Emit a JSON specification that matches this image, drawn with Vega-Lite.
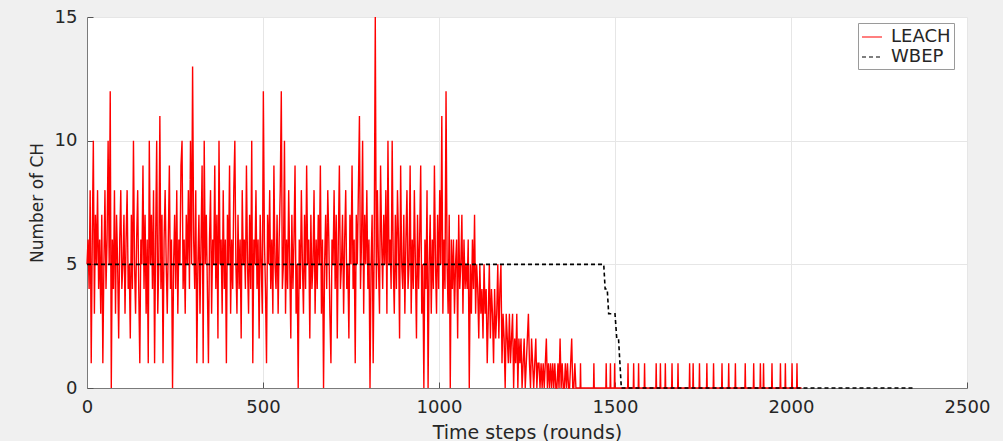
{
  "$schema": "https://vega.github.io/schema/vega-lite/v6.json",
  "width": 880,
  "height": 371,
  "autosize": {"type": "none"},
  "padding": {"left": 87, "top": 17, "right": 36, "bottom": 53},
  "background": "#f0f0f0",
  "config": {
    "view": {"fill": "white", "stroke": null},
    "font": "DejaVu Sans",
    "axis": {
      "labelFont": "DejaVu Sans",
      "labelFontSize": 18,
      "labelColor": "#262626",
      "labelFlush": false,
      "titleFont": "DejaVu Sans",
      "titleFontSize": 19,
      "titleFontWeight": "normal",
      "titleColor": "#262626",
      "domainColor": "#7a7a7a",
      "tickColor": "#555555",
      "gridColor": "#e6e6e6",
      "tickSize": -6,
      "labelPadding": 16,
      "format": "d"
    },
    "legend": {
      "labelFont": "DejaVu Sans",
      "labelFontSize": 18,
      "labelColor": "#262626"
    }
  },
  "datasets": {
    "leach": [
{"r":0,"v":5,"s":"LEACH"},{"r":3,"v":6,"s":"LEACH"},{"r":6,"v":4,"s":"LEACH"},{"r":9,"v":8,"s":"LEACH"},{"r":12,"v":1,"s":"LEACH"},{"r":15,"v":6,"s":"LEACH"},{"r":18,"v":10,"s":"LEACH"},{"r":21,"v":3,"s":"LEACH"},{"r":24,"v":7,"s":"LEACH"},{"r":27,"v":5,"s":"LEACH"},
{"r":30,"v":8,"s":"LEACH"},{"r":33,"v":4,"s":"LEACH"},{"r":36,"v":6,"s":"LEACH"},{"r":39,"v":3,"s":"LEACH"},{"r":42,"v":7,"s":"LEACH"},{"r":45,"v":1,"s":"LEACH"},{"r":48,"v":5,"s":"LEACH"},{"r":51,"v":8,"s":"LEACH"},{"r":54,"v":4,"s":"LEACH"},{"r":57,"v":6,"s":"LEACH"},
{"r":60,"v":10,"s":"LEACH"},{"r":63,"v":5,"s":"LEACH"},{"r":66,"v":12,"s":"LEACH"},{"r":69,"v":0,"s":"LEACH"},{"r":72,"v":6,"s":"LEACH"},{"r":75,"v":4,"s":"LEACH"},{"r":78,"v":8,"s":"LEACH"},{"r":81,"v":3,"s":"LEACH"},{"r":84,"v":7,"s":"LEACH"},{"r":87,"v":5,"s":"LEACH"},
{"r":90,"v":2,"s":"LEACH"},{"r":93,"v":6,"s":"LEACH"},{"r":96,"v":8,"s":"LEACH"},{"r":99,"v":4,"s":"LEACH"},{"r":102,"v":5,"s":"LEACH"},{"r":105,"v":7,"s":"LEACH"},{"r":108,"v":3,"s":"LEACH"},{"r":111,"v":6,"s":"LEACH"},{"r":114,"v":8,"s":"LEACH"},{"r":117,"v":4,"s":"LEACH"},
{"r":120,"v":5,"s":"LEACH"},{"r":123,"v":2,"s":"LEACH"},{"r":126,"v":7,"s":"LEACH"},{"r":129,"v":4,"s":"LEACH"},{"r":132,"v":10,"s":"LEACH"},{"r":135,"v":5,"s":"LEACH"},{"r":138,"v":3,"s":"LEACH"},{"r":141,"v":6,"s":"LEACH"},{"r":144,"v":8,"s":"LEACH"},{"r":147,"v":4,"s":"LEACH"},
{"r":150,"v":1,"s":"LEACH"},{"r":153,"v":6,"s":"LEACH"},{"r":156,"v":5,"s":"LEACH"},{"r":159,"v":9,"s":"LEACH"},{"r":162,"v":4,"s":"LEACH"},{"r":165,"v":7,"s":"LEACH"},{"r":168,"v":3,"s":"LEACH"},{"r":171,"v":6,"s":"LEACH"},{"r":174,"v":1,"s":"LEACH"},{"r":177,"v":10,"s":"LEACH"},
{"r":180,"v":5,"s":"LEACH"},{"r":183,"v":7,"s":"LEACH"},{"r":186,"v":4,"s":"LEACH"},{"r":189,"v":8,"s":"LEACH"},{"r":192,"v":1,"s":"LEACH"},{"r":195,"v":6,"s":"LEACH"},{"r":198,"v":10,"s":"LEACH"},{"r":201,"v":3,"s":"LEACH"},{"r":204,"v":5,"s":"LEACH"},{"r":207,"v":11,"s":"LEACH"},
{"r":210,"v":4,"s":"LEACH"},{"r":213,"v":7,"s":"LEACH"},{"r":216,"v":1,"s":"LEACH"},{"r":219,"v":6,"s":"LEACH"},{"r":222,"v":8,"s":"LEACH"},{"r":225,"v":5,"s":"LEACH"},{"r":228,"v":3,"s":"LEACH"},{"r":231,"v":6,"s":"LEACH"},{"r":234,"v":9,"s":"LEACH"},{"r":237,"v":4,"s":"LEACH"},
{"r":240,"v":6,"s":"LEACH"},{"r":243,"v":0,"s":"LEACH"},{"r":246,"v":5,"s":"LEACH"},{"r":249,"v":7,"s":"LEACH"},{"r":252,"v":4,"s":"LEACH"},{"r":255,"v":8,"s":"LEACH"},{"r":258,"v":3,"s":"LEACH"},{"r":261,"v":6,"s":"LEACH"},{"r":264,"v":5,"s":"LEACH"},{"r":267,"v":9,"s":"LEACH"},
{"r":270,"v":10,"s":"LEACH"},{"r":273,"v":4,"s":"LEACH"},{"r":276,"v":6,"s":"LEACH"},{"r":279,"v":3,"s":"LEACH"},{"r":282,"v":7,"s":"LEACH"},{"r":285,"v":5,"s":"LEACH"},{"r":288,"v":8,"s":"LEACH"},{"r":291,"v":4,"s":"LEACH"},{"r":294,"v":10,"s":"LEACH"},{"r":297,"v":5,"s":"LEACH"},
{"r":300,"v":13,"s":"LEACH"},{"r":303,"v":6,"s":"LEACH"},{"r":306,"v":4,"s":"LEACH"},{"r":309,"v":8,"s":"LEACH"},{"r":312,"v":1,"s":"LEACH"},{"r":315,"v":5,"s":"LEACH"},{"r":318,"v":7,"s":"LEACH"},{"r":321,"v":3,"s":"LEACH"},{"r":324,"v":6,"s":"LEACH"},{"r":327,"v":9,"s":"LEACH"},
{"r":330,"v":1,"s":"LEACH"},{"r":333,"v":10,"s":"LEACH"},{"r":336,"v":5,"s":"LEACH"},{"r":339,"v":7,"s":"LEACH"},{"r":342,"v":4,"s":"LEACH"},{"r":345,"v":1,"s":"LEACH"},{"r":348,"v":6,"s":"LEACH"},{"r":351,"v":8,"s":"LEACH"},{"r":354,"v":3,"s":"LEACH"},{"r":357,"v":6,"s":"LEACH"},
{"r":360,"v":5,"s":"LEACH"},{"r":363,"v":9,"s":"LEACH"},{"r":366,"v":4,"s":"LEACH"},{"r":369,"v":7,"s":"LEACH"},{"r":372,"v":2,"s":"LEACH"},{"r":375,"v":10,"s":"LEACH"},{"r":378,"v":5,"s":"LEACH"},{"r":381,"v":6,"s":"LEACH"},{"r":384,"v":3,"s":"LEACH"},{"r":387,"v":8,"s":"LEACH"},
{"r":390,"v":4,"s":"LEACH"},{"r":393,"v":6,"s":"LEACH"},{"r":396,"v":1,"s":"LEACH"},{"r":399,"v":7,"s":"LEACH"},{"r":402,"v":5,"s":"LEACH"},{"r":405,"v":9,"s":"LEACH"},{"r":408,"v":3,"s":"LEACH"},{"r":411,"v":6,"s":"LEACH"},{"r":414,"v":4,"s":"LEACH"},{"r":417,"v":8,"s":"LEACH"},
{"r":420,"v":10,"s":"LEACH"},{"r":423,"v":5,"s":"LEACH"},{"r":426,"v":3,"s":"LEACH"},{"r":429,"v":7,"s":"LEACH"},{"r":432,"v":4,"s":"LEACH"},{"r":435,"v":6,"s":"LEACH"},{"r":438,"v":2,"s":"LEACH"},{"r":441,"v":8,"s":"LEACH"},{"r":444,"v":5,"s":"LEACH"},{"r":447,"v":6,"s":"LEACH"},
{"r":450,"v":4,"s":"LEACH"},{"r":453,"v":9,"s":"LEACH"},{"r":456,"v":5,"s":"LEACH"},{"r":459,"v":3,"s":"LEACH"},{"r":462,"v":7,"s":"LEACH"},{"r":465,"v":4,"s":"LEACH"},{"r":468,"v":10,"s":"LEACH"},{"r":471,"v":1,"s":"LEACH"},{"r":474,"v":6,"s":"LEACH"},{"r":477,"v":5,"s":"LEACH"},
{"r":480,"v":8,"s":"LEACH"},{"r":483,"v":4,"s":"LEACH"},{"r":486,"v":6,"s":"LEACH"},{"r":489,"v":2,"s":"LEACH"},{"r":492,"v":7,"s":"LEACH"},{"r":495,"v":5,"s":"LEACH"},{"r":498,"v":3,"s":"LEACH"},{"r":501,"v":12,"s":"LEACH"},{"r":504,"v":6,"s":"LEACH"},{"r":507,"v":4,"s":"LEACH"},
{"r":510,"v":1,"s":"LEACH"},{"r":513,"v":7,"s":"LEACH"},{"r":516,"v":5,"s":"LEACH"},{"r":519,"v":8,"s":"LEACH"},{"r":522,"v":4,"s":"LEACH"},{"r":525,"v":6,"s":"LEACH"},{"r":528,"v":3,"s":"LEACH"},{"r":531,"v":9,"s":"LEACH"},{"r":534,"v":5,"s":"LEACH"},{"r":537,"v":4,"s":"LEACH"},
{"r":540,"v":7,"s":"LEACH"},{"r":543,"v":3,"s":"LEACH"},{"r":546,"v":6,"s":"LEACH"},{"r":549,"v":8,"s":"LEACH"},{"r":552,"v":12,"s":"LEACH"},{"r":555,"v":4,"s":"LEACH"},{"r":558,"v":5,"s":"LEACH"},{"r":561,"v":10,"s":"LEACH"},{"r":564,"v":3,"s":"LEACH"},{"r":567,"v":6,"s":"LEACH"},
{"r":570,"v":4,"s":"LEACH"},{"r":573,"v":8,"s":"LEACH"},{"r":576,"v":5,"s":"LEACH"},{"r":579,"v":2,"s":"LEACH"},{"r":582,"v":7,"s":"LEACH"},{"r":585,"v":4,"s":"LEACH"},{"r":588,"v":6,"s":"LEACH"},{"r":591,"v":9,"s":"LEACH"},{"r":594,"v":3,"s":"LEACH"},{"r":597,"v":5,"s":"LEACH"},
{"r":600,"v":0,"s":"LEACH"},{"r":603,"v":6,"s":"LEACH"},{"r":606,"v":4,"s":"LEACH"},{"r":609,"v":8,"s":"LEACH"},{"r":612,"v":5,"s":"LEACH"},{"r":615,"v":3,"s":"LEACH"},{"r":618,"v":7,"s":"LEACH"},{"r":621,"v":4,"s":"LEACH"},{"r":624,"v":9,"s":"LEACH"},{"r":627,"v":5,"s":"LEACH"},
{"r":630,"v":6,"s":"LEACH"},{"r":633,"v":2,"s":"LEACH"},{"r":636,"v":7,"s":"LEACH"},{"r":639,"v":4,"s":"LEACH"},{"r":642,"v":5,"s":"LEACH"},{"r":645,"v":8,"s":"LEACH"},{"r":648,"v":3,"s":"LEACH"},{"r":651,"v":6,"s":"LEACH"},{"r":654,"v":4,"s":"LEACH"},{"r":657,"v":7,"s":"LEACH"},
{"r":660,"v":5,"s":"LEACH"},{"r":663,"v":9,"s":"LEACH"},{"r":666,"v":3,"s":"LEACH"},{"r":669,"v":6,"s":"LEACH"},{"r":672,"v":0,"s":"LEACH"},{"r":675,"v":5,"s":"LEACH"},{"r":678,"v":7,"s":"LEACH"},{"r":681,"v":4,"s":"LEACH"},{"r":684,"v":8,"s":"LEACH"},{"r":687,"v":6,"s":"LEACH"},
{"r":690,"v":3,"s":"LEACH"},{"r":693,"v":1,"s":"LEACH"},{"r":696,"v":6,"s":"LEACH"},{"r":699,"v":5,"s":"LEACH"},{"r":702,"v":8,"s":"LEACH"},{"r":705,"v":4,"s":"LEACH"},{"r":708,"v":7,"s":"LEACH"},{"r":711,"v":2,"s":"LEACH"},{"r":714,"v":6,"s":"LEACH"},{"r":717,"v":9,"s":"LEACH"},
{"r":720,"v":4,"s":"LEACH"},{"r":723,"v":5,"s":"LEACH"},{"r":726,"v":7,"s":"LEACH"},{"r":729,"v":3,"s":"LEACH"},{"r":732,"v":6,"s":"LEACH"},{"r":735,"v":8,"s":"LEACH"},{"r":738,"v":4,"s":"LEACH"},{"r":741,"v":5,"s":"LEACH"},{"r":744,"v":2,"s":"LEACH"},{"r":747,"v":7,"s":"LEACH"},
{"r":750,"v":5,"s":"LEACH"},{"r":753,"v":9,"s":"LEACH"},{"r":756,"v":4,"s":"LEACH"},{"r":759,"v":6,"s":"LEACH"},{"r":762,"v":1,"s":"LEACH"},{"r":765,"v":7,"s":"LEACH"},{"r":768,"v":5,"s":"LEACH"},{"r":771,"v":8,"s":"LEACH"},{"r":774,"v":11,"s":"LEACH"},{"r":777,"v":4,"s":"LEACH"},
{"r":780,"v":6,"s":"LEACH"},{"r":783,"v":10,"s":"LEACH"},{"r":786,"v":3,"s":"LEACH"},{"r":789,"v":7,"s":"LEACH"},{"r":792,"v":5,"s":"LEACH"},{"r":795,"v":8,"s":"LEACH"},{"r":798,"v":4,"s":"LEACH"},{"r":801,"v":6,"s":"LEACH"},{"r":804,"v":0,"s":"LEACH"},{"r":807,"v":5,"s":"LEACH"},
{"r":810,"v":7,"s":"LEACH"},{"r":813,"v":1,"s":"LEACH"},{"r":816,"v":6,"s":"LEACH"},{"r":819,"v":15,"s":"LEACH"},{"r":822,"v":4,"s":"LEACH"},{"r":825,"v":8,"s":"LEACH"},{"r":828,"v":5,"s":"LEACH"},{"r":831,"v":3,"s":"LEACH"},{"r":834,"v":9,"s":"LEACH"},{"r":837,"v":6,"s":"LEACH"},
{"r":840,"v":4,"s":"LEACH"},{"r":843,"v":7,"s":"LEACH"},{"r":846,"v":5,"s":"LEACH"},{"r":849,"v":8,"s":"LEACH"},{"r":852,"v":3,"s":"LEACH"},{"r":855,"v":10,"s":"LEACH"},{"r":858,"v":5,"s":"LEACH"},{"r":861,"v":6,"s":"LEACH"},{"r":864,"v":4,"s":"LEACH"},{"r":867,"v":10,"s":"LEACH"},
{"r":870,"v":5,"s":"LEACH"},{"r":873,"v":3,"s":"LEACH"},{"r":876,"v":7,"s":"LEACH"},{"r":879,"v":4,"s":"LEACH"},{"r":882,"v":8,"s":"LEACH"},{"r":885,"v":6,"s":"LEACH"},{"r":888,"v":2,"s":"LEACH"},{"r":891,"v":9,"s":"LEACH"},{"r":894,"v":5,"s":"LEACH"},{"r":897,"v":4,"s":"LEACH"},
{"r":900,"v":7,"s":"LEACH"},{"r":903,"v":3,"s":"LEACH"},{"r":906,"v":6,"s":"LEACH"},{"r":909,"v":8,"s":"LEACH"},{"r":912,"v":4,"s":"LEACH"},{"r":915,"v":5,"s":"LEACH"},{"r":918,"v":9,"s":"LEACH"},{"r":921,"v":3,"s":"LEACH"},{"r":924,"v":6,"s":"LEACH"},{"r":927,"v":4,"s":"LEACH"},
{"r":930,"v":8,"s":"LEACH"},{"r":933,"v":5,"s":"LEACH"},{"r":936,"v":2,"s":"LEACH"},{"r":939,"v":7,"s":"LEACH"},{"r":942,"v":4,"s":"LEACH"},{"r":945,"v":6,"s":"LEACH"},{"r":948,"v":9,"s":"LEACH"},{"r":951,"v":3,"s":"LEACH"},{"r":954,"v":5,"s":"LEACH"},{"r":957,"v":0,"s":"LEACH"},
{"r":960,"v":6,"s":"LEACH"},{"r":963,"v":4,"s":"LEACH"},{"r":966,"v":8,"s":"LEACH"},{"r":969,"v":0,"s":"LEACH"},{"r":972,"v":5,"s":"LEACH"},{"r":975,"v":7,"s":"LEACH"},{"r":978,"v":3,"s":"LEACH"},{"r":981,"v":6,"s":"LEACH"},{"r":984,"v":4,"s":"LEACH"},{"r":987,"v":9,"s":"LEACH"},
{"r":990,"v":5,"s":"LEACH"},{"r":993,"v":3,"s":"LEACH"},{"r":996,"v":7,"s":"LEACH"},{"r":999,"v":4,"s":"LEACH"},{"r":1002,"v":8,"s":"LEACH"},{"r":1005,"v":5,"s":"LEACH"},{"r":1008,"v":11,"s":"LEACH"},{"r":1011,"v":3,"s":"LEACH"},{"r":1014,"v":6,"s":"LEACH"},{"r":1017,"v":4,"s":"LEACH"},
{"r":1020,"v":12,"s":"LEACH"},{"r":1023,"v":5,"s":"LEACH"},{"r":1026,"v":3,"s":"LEACH"},{"r":1029,"v":7,"s":"LEACH"},{"r":1032,"v":0,"s":"LEACH"},{"r":1035,"v":6,"s":"LEACH"},{"r":1038,"v":4,"s":"LEACH"},{"r":1041,"v":6,"s":"LEACH"},{"r":1044,"v":3,"s":"LEACH"},{"r":1047,"v":5,"s":"LEACH"},
{"r":1050,"v":6,"s":"LEACH"},{"r":1053,"v":2,"s":"LEACH"},{"r":1056,"v":7,"s":"LEACH"},{"r":1059,"v":4,"s":"LEACH"},{"r":1062,"v":5,"s":"LEACH"},{"r":1065,"v":7,"s":"LEACH"},{"r":1068,"v":3,"s":"LEACH"},{"r":1071,"v":6,"s":"LEACH"},{"r":1074,"v":4,"s":"LEACH"},{"r":1077,"v":5,"s":"LEACH"},
{"r":1080,"v":4,"s":"LEACH"},{"r":1083,"v":6,"s":"LEACH"},{"r":1086,"v":0,"s":"LEACH"},{"r":1089,"v":5,"s":"LEACH"},{"r":1092,"v":3,"s":"LEACH"},{"r":1095,"v":6,"s":"LEACH"},{"r":1098,"v":4,"s":"LEACH"},{"r":1101,"v":7,"s":"LEACH"},{"r":1104,"v":3,"s":"LEACH"},{"r":1107,"v":5,"s":"LEACH"},
{"r":1110,"v":4,"s":"LEACH"},{"r":1113,"v":2,"s":"LEACH"},{"r":1116,"v":5,"s":"LEACH"},{"r":1119,"v":3,"s":"LEACH"},{"r":1122,"v":4,"s":"LEACH"},{"r":1125,"v":2,"s":"LEACH"},{"r":1128,"v":5,"s":"LEACH"},{"r":1131,"v":3,"s":"LEACH"},{"r":1134,"v":4,"s":"LEACH"},{"r":1137,"v":1,"s":"LEACH"},
{"r":1140,"v":3,"s":"LEACH"},{"r":1143,"v":5,"s":"LEACH"},{"r":1146,"v":2,"s":"LEACH"},{"r":1149,"v":4,"s":"LEACH"},{"r":1152,"v":3,"s":"LEACH"},{"r":1155,"v":1,"s":"LEACH"},{"r":1158,"v":4,"s":"LEACH"},{"r":1161,"v":2,"s":"LEACH"},{"r":1164,"v":3,"s":"LEACH"},{"r":1167,"v":5,"s":"LEACH"},
{"r":1170,"v":2,"s":"LEACH"},{"r":1173,"v":4,"s":"LEACH"},{"r":1176,"v":5,"s":"LEACH"},{"r":1179,"v":1,"s":"LEACH"},{"r":1182,"v":3,"s":"LEACH"},{"r":1185,"v":2,"s":"LEACH"},{"r":1188,"v":0,"s":"LEACH"},{"r":1191,"v":3,"s":"LEACH"},{"r":1194,"v":2,"s":"LEACH"},{"r":1197,"v":1,"s":"LEACH"},
{"r":1200,"v":3,"s":"LEACH"},{"r":1203,"v":1,"s":"LEACH"},{"r":1206,"v":2,"s":"LEACH"},{"r":1209,"v":3,"s":"LEACH"},{"r":1212,"v":0,"s":"LEACH"},{"r":1215,"v":2,"s":"LEACH"},{"r":1218,"v":1,"s":"LEACH"},{"r":1221,"v":3,"s":"LEACH"},{"r":1224,"v":0,"s":"LEACH"},{"r":1227,"v":2,"s":"LEACH"},
{"r":1230,"v":1,"s":"LEACH"},{"r":1233,"v":2,"s":"LEACH"},{"r":1236,"v":0,"s":"LEACH"},{"r":1239,"v":1,"s":"LEACH"},{"r":1242,"v":2,"s":"LEACH"},{"r":1245,"v":0,"s":"LEACH"},{"r":1248,"v":1,"s":"LEACH"},{"r":1251,"v":2,"s":"LEACH"},{"r":1254,"v":3,"s":"LEACH"},{"r":1257,"v":1,"s":"LEACH"},
{"r":1260,"v":0,"s":"LEACH"},{"r":1263,"v":2,"s":"LEACH"},{"r":1266,"v":1,"s":"LEACH"},{"r":1269,"v":0,"s":"LEACH"},{"r":1272,"v":1,"s":"LEACH"},{"r":1275,"v":2,"s":"LEACH"},{"r":1278,"v":0,"s":"LEACH"},{"r":1281,"v":1,"s":"LEACH"},{"r":1284,"v":1,"s":"LEACH"},{"r":1287,"v":0,"s":"LEACH"},
{"r":1290,"v":1,"s":"LEACH"},{"r":1293,"v":0,"s":"LEACH"},{"r":1296,"v":1,"s":"LEACH"},{"r":1299,"v":0,"s":"LEACH"},{"r":1302,"v":1,"s":"LEACH"},{"r":1305,"v":2,"s":"LEACH"},{"r":1308,"v":0,"s":"LEACH"},{"r":1311,"v":1,"s":"LEACH"},{"r":1314,"v":0,"s":"LEACH"},{"r":1317,"v":1,"s":"LEACH"},
{"r":1320,"v":0,"s":"LEACH"},{"r":1323,"v":1,"s":"LEACH"},{"r":1326,"v":0,"s":"LEACH"},{"r":1329,"v":1,"s":"LEACH"},{"r":1332,"v":0,"s":"LEACH"},{"r":1335,"v":0,"s":"LEACH"},{"r":1338,"v":1,"s":"LEACH"},{"r":1341,"v":0,"s":"LEACH"},{"r":1344,"v":2,"s":"LEACH"},{"r":1347,"v":0,"s":"LEACH"},
{"r":1350,"v":1,"s":"LEACH"},{"r":1353,"v":0,"s":"LEACH"},{"r":1356,"v":0,"s":"LEACH"},{"r":1359,"v":1,"s":"LEACH"},{"r":1362,"v":0,"s":"LEACH"},{"r":1365,"v":1,"s":"LEACH"},{"r":1368,"v":0,"s":"LEACH"},{"r":1371,"v":0,"s":"LEACH"},{"r":1374,"v":1,"s":"LEACH"},{"r":1377,"v":2,"s":"LEACH"},
{"r":1380,"v":0,"s":"LEACH"},{"r":1383,"v":0,"s":"LEACH"},{"r":1386,"v":1,"s":"LEACH"},{"r":1389,"v":0,"s":"LEACH"},
{"r":1401,"v":0,"s":"LEACH"},{"r":1402,"v":1,"s":"LEACH"},{"r":1403,"v":0,"s":"LEACH"},
{"r":1439,"v":0,"s":"LEACH"},{"r":1440,"v":1,"s":"LEACH"},{"r":1441,"v":0,"s":"LEACH"},
{"r":1474,"v":0,"s":"LEACH"},{"r":1475,"v":1,"s":"LEACH"},{"r":1476,"v":0,"s":"LEACH"},
{"r":1486,"v":0,"s":"LEACH"},{"r":1487,"v":1,"s":"LEACH"},{"r":1488,"v":0,"s":"LEACH"},
{"r":1498,"v":0,"s":"LEACH"},{"r":1499,"v":1,"s":"LEACH"},{"r":1500,"v":0,"s":"LEACH"},
{"r":1536,"v":0,"s":"LEACH"},{"r":1537,"v":1,"s":"LEACH"},{"r":1538,"v":0,"s":"LEACH"},
{"r":1552,"v":0,"s":"LEACH"},{"r":1553,"v":1,"s":"LEACH"},{"r":1554,"v":0,"s":"LEACH"},
{"r":1566,"v":0,"s":"LEACH"},{"r":1567,"v":1,"s":"LEACH"},{"r":1568,"v":0,"s":"LEACH"},
{"r":1583,"v":0,"s":"LEACH"},{"r":1584,"v":1,"s":"LEACH"},{"r":1585,"v":0,"s":"LEACH"},
{"r":1616,"v":0,"s":"LEACH"},{"r":1617,"v":1,"s":"LEACH"},{"r":1618,"v":0,"s":"LEACH"},
{"r":1628,"v":0,"s":"LEACH"},{"r":1629,"v":1,"s":"LEACH"},{"r":1630,"v":0,"s":"LEACH"},
{"r":1642,"v":0,"s":"LEACH"},{"r":1643,"v":1,"s":"LEACH"},{"r":1644,"v":0,"s":"LEACH"},
{"r":1661,"v":0,"s":"LEACH"},{"r":1662,"v":1,"s":"LEACH"},{"r":1663,"v":0,"s":"LEACH"},
{"r":1678,"v":0,"s":"LEACH"},{"r":1679,"v":1,"s":"LEACH"},{"r":1680,"v":0,"s":"LEACH"},
{"r":1711,"v":0,"s":"LEACH"},{"r":1712,"v":1,"s":"LEACH"},{"r":1713,"v":0,"s":"LEACH"},
{"r":1721,"v":0,"s":"LEACH"},{"r":1722,"v":1,"s":"LEACH"},{"r":1723,"v":0,"s":"LEACH"},
{"r":1739,"v":0,"s":"LEACH"},{"r":1740,"v":1,"s":"LEACH"},{"r":1741,"v":0,"s":"LEACH"},
{"r":1760,"v":0,"s":"LEACH"},{"r":1761,"v":1,"s":"LEACH"},{"r":1762,"v":0,"s":"LEACH"},
{"r":1779,"v":0,"s":"LEACH"},{"r":1780,"v":1,"s":"LEACH"},{"r":1781,"v":0,"s":"LEACH"},
{"r":1803,"v":0,"s":"LEACH"},{"r":1804,"v":1,"s":"LEACH"},{"r":1805,"v":0,"s":"LEACH"},
{"r":1822,"v":0,"s":"LEACH"},{"r":1823,"v":1,"s":"LEACH"},{"r":1824,"v":0,"s":"LEACH"},
{"r":1841,"v":0,"s":"LEACH"},{"r":1842,"v":1,"s":"LEACH"},{"r":1843,"v":0,"s":"LEACH"},
{"r":1869,"v":0,"s":"LEACH"},{"r":1870,"v":1,"s":"LEACH"},{"r":1871,"v":0,"s":"LEACH"},
{"r":1893,"v":0,"s":"LEACH"},{"r":1894,"v":1,"s":"LEACH"},{"r":1895,"v":0,"s":"LEACH"},
{"r":1912,"v":0,"s":"LEACH"},{"r":1913,"v":1,"s":"LEACH"},{"r":1914,"v":0,"s":"LEACH"},
{"r":1921,"v":0,"s":"LEACH"},{"r":1922,"v":1,"s":"LEACH"},{"r":1923,"v":0,"s":"LEACH"},
{"r":1945,"v":0,"s":"LEACH"},{"r":1946,"v":1,"s":"LEACH"},{"r":1947,"v":0,"s":"LEACH"},
{"r":1969,"v":0,"s":"LEACH"},{"r":1970,"v":1,"s":"LEACH"},{"r":1971,"v":0,"s":"LEACH"},
{"r":1983,"v":0,"s":"LEACH"},{"r":1984,"v":1,"s":"LEACH"},{"r":1985,"v":0,"s":"LEACH"},
{"r":2002,"v":0,"s":"LEACH"},{"r":2003,"v":1,"s":"LEACH"},{"r":2004,"v":0,"s":"LEACH"},
{"r":2016,"v":0,"s":"LEACH"},{"r":2017,"v":1,"s":"LEACH"},{"r":2018,"v":0,"s":"LEACH"},
{"r":2030,"v":0,"s":"LEACH"}
    ],
    "wbep": [
{"r":0,"v":5,"s":"WBEP"},{"r":1468,"v":5,"s":"WBEP"},{"r":1472,"v":4,"s":"WBEP"},{"r":1478,"v":4,"s":"WBEP"},{"r":1482,"v":3,"s":"WBEP"},{"r":1500,"v":3,"s":"WBEP"},{"r":1505,"v":2,"s":"WBEP"},{"r":1510,"v":2,"s":"WBEP"},{"r":1514,"v":1,"s":"WBEP"},{"r":1518,"v":0,"s":"WBEP"},{"r":2350,"v":0,"s":"WBEP"}
    ]
  },
  "encoding": {
    "x": {
      "field": "r", "type": "quantitative",
      "scale": {"domain": [0, 2500], "nice": false},
      "axis": {"values": [0, 500, 1000, 1500, 2000, 2500], "grid": true, "title": "Time steps (rounds)", "titlePadding": 7}
    },
    "y": {
      "field": "v", "type": "quantitative",
      "scale": {"domain": [0, 15], "nice": false},
      "axis": {"values": [0, 5, 10, 15], "grid": true, "title": "Number of CH", "titlePadding": 8, "titleFontSize": 17}
    },
    "color": {
      "field": "s", "type": "nominal",
      "scale": {"domain": ["LEACH", "WBEP"], "range": ["#ff0000", "#000000"]},
      "legend": {
        "title": null, "orient": "none", "legendX": 771, "legendY": 6,
        "fillColor": "white", "strokeColor": "#9a9a9a", "padding": 3,
        "symbolType": "stroke", "symbolSize": 400, "symbolStrokeWidth": 1.2,
        "labelOffset": 8, "rowPadding": 0
      }
    },
    "strokeDash": {
      "field": "s", "type": "nominal",
      "scale": {"domain": ["LEACH", "WBEP"], "range": [[1, 0], [4, 3]]},
      "legend": {
        "title": null, "orient": "none", "legendX": 771, "legendY": 6,
        "fillColor": "white", "strokeColor": "#9a9a9a", "padding": 3,
        "symbolType": "stroke", "symbolSize": 400, "symbolStrokeWidth": 1.2,
        "labelOffset": 8, "rowPadding": 0
      }
    }
  },
  "layer": [
    {"data": {"name": "leach"}, "mark": {"type": "line", "strokeWidth": 1.4, "interpolate": "linear"}},
    {"data": {"name": "wbep"}, "mark": {"type": "line", "strokeWidth": 1.6}}
  ]
}
